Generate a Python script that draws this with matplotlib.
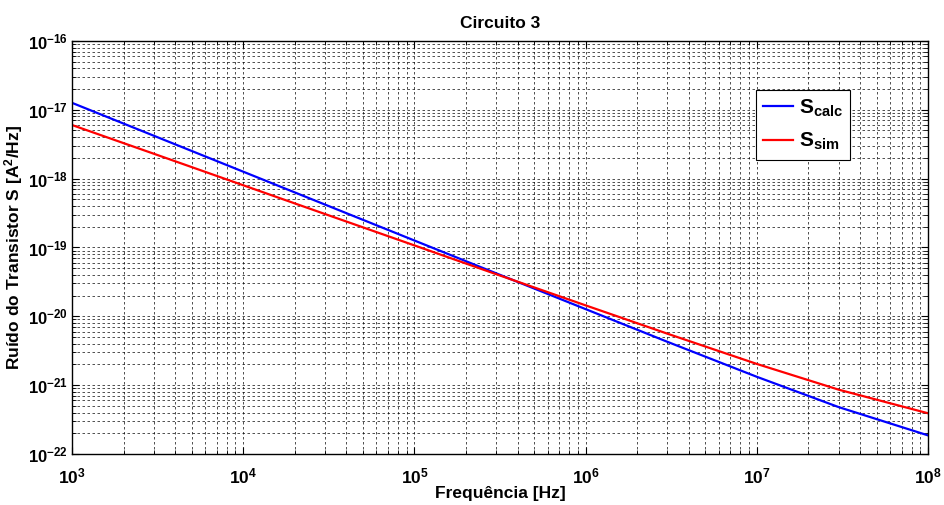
import matplotlib.pyplot as plt
import numpy as np

# Values (log-log, frequency in Hz)
freq = [1e3, 3e3, 1e4, 3e4, 1e5, 3e5, 1e6, 3e6, 1e7, 3e7, 1e8]
s_calc = [1.26e-17, 4.2e-18, 1.26e-18, 4.2e-19, 1.26e-19, 4.21e-20,
          1.27e-20, 4.26e-21, 1.32e-21, 4.8e-22, 1.86e-22]
s_sim = [6.0e-18, 2.30e-18, 8.0e-19, 3.06e-19, 1.07e-19, 4.09e-20,
         1.44e-20, 5.59e-21, 2.03e-21, 8.6e-22, 3.9e-22]

plt.rcParams['font.family'] = ['Liberation Sans', 'DejaVu Sans']
plt.rcParams['font.weight'] = 'bold'
plt.rcParams['mathtext.fontset'] = 'custom'
plt.rcParams['mathtext.rm'] = 'Liberation Sans:bold'
plt.rcParams['mathtext.bf'] = 'Liberation Sans:bold'
plt.rcParams['mathtext.it'] = 'Liberation Sans:bold'
plt.rcParams['mathtext.default'] = 'bf'
plt.rcParams['axes.unicode_minus'] = False

fig = plt.figure(figsize=(9.45, 5.05), dpi=100)
ax = fig.add_axes([0.0762, 0.101, 0.906, 0.818])

ax.loglog(freq, s_calc, color='#0000ff', lw=1.6, label=r'S$_{calc}$')
ax.loglog(freq, s_sim, color='#ff0000', lw=1.6, label=r'S$_{sim}$')

ax.set_xlim(1e3, 1e8)
ax.set_ylim(1e-22, 1e-16)
ax.set_yticks([10.0**k for k in range(-22, -15)])
ax.set_xticks([10.0**k for k in range(3, 9)])

ax.grid(True, which='both', color='black', linestyle=(0, (3, 3)), linewidth=0.6, alpha=0.8)
ax.tick_params(which='both', direction='in', top=True, right=True, color='black')
ax.tick_params(which='major', length=5, labelsize=12.5)
ax.tick_params(axis='x', which='major', pad=9)
ax.tick_params(axis='y', which='major', pad=3, labelsize=12)
ax.tick_params(which='minor', length=3)
for sp in ax.spines.values():
    sp.set_linewidth(1.0)

ax.set_title('Circuito 3', fontsize=12.5, fontweight='bold', pad=9)
ax.set_xlabel('Frequência [Hz]', fontsize=12.5, fontweight='bold', labelpad=0)
ax.set_ylabel(r'Ruído do Transistor S [A$^{2}$/Hz]', fontsize=12.5, fontweight='bold', labelpad=2)

leg = ax.legend(loc='upper right', bbox_to_anchor=(0.909, 0.881), borderaxespad=0,
                fancybox=False, framealpha=1, edgecolor='black', fontsize=15,
                handlelength=1.4, handletextpad=0.3, borderpad=0.35, labelspacing=0.6)
leg.get_frame().set_linewidth(0.8)

fig.savefig('out.png', dpi=100)
